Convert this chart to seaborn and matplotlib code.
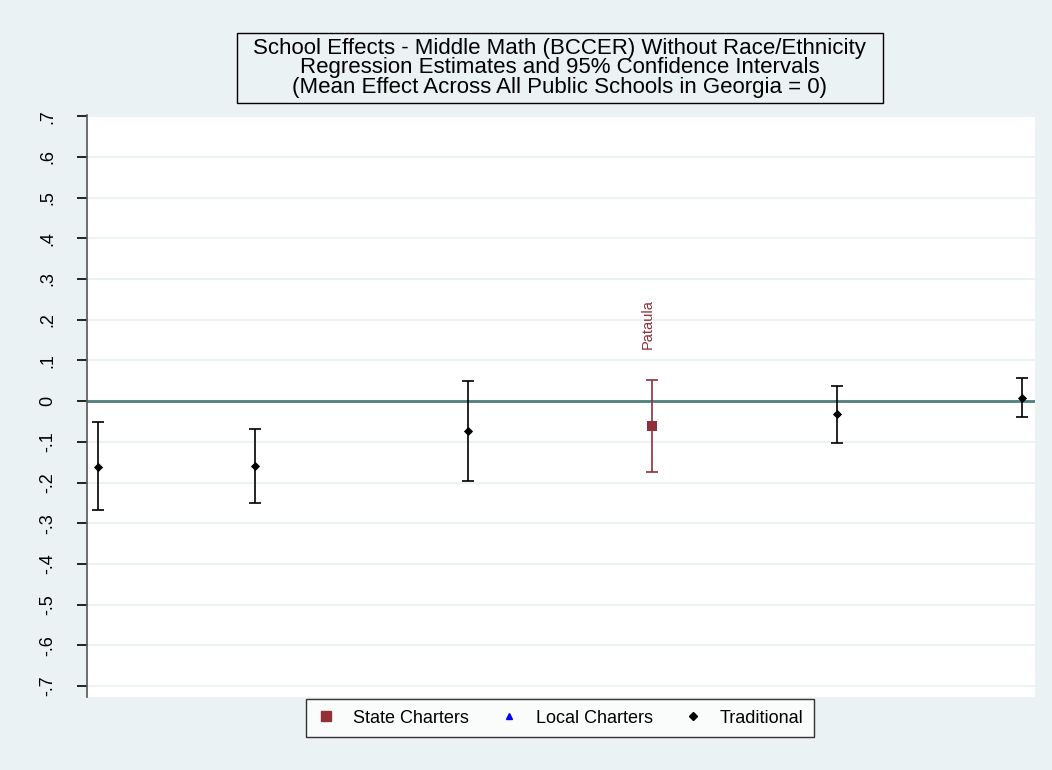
import seaborn as sns
import pandas as pd
import matplotlib.pyplot as plt
from matplotlib.lines import Line2D
from matplotlib.patches import Rectangle

# School effect estimates
school = ['', '', '', 'Pataula', '', '']
sector = ['Traditional', 'Traditional', 'Traditional', 'State Charters', 'Traditional', 'Traditional']
rank = [0, 8.5, 20, 30, 40, 50]
estimate = [-0.161, -0.159, -0.073, -0.060, -0.032, 0.008]
ci_low = [-0.267, -0.250, -0.197, -0.174, -0.103, -0.038]
ci_high = [-0.052, -0.068, 0.050, 0.052, 0.037, 0.057]

y_ticks = [-0.7, -0.6, -0.5, -0.4, -0.3, -0.2, -0.1, 0, 0.1, 0.2, 0.3, 0.4, 0.5, 0.6, 0.7]
y_labels = ['-.7', '-.6', '-.5', '-.4', '-.3', '-.2', '-.1', '0', '.1', '.2', '.3', '.4', '.5', '.6', '.7']

df = pd.DataFrame({'school': school, 'sector': sector, 'rank': rank,
                   'estimate': estimate, 'lo': ci_low, 'hi': ci_high})

bg = '#EAF2F3'
colors = {'State Charters': '#913038', 'Local Charters': '#0000FF', 'Traditional': '#000000'}
markers = {'State Charters': 's', 'Local Charters': '^', 'Traditional': 'D'}
sizes = {'State Charters': 60, 'Local Charters': 30, 'Traditional': 22}
plain = ['Liberation Sans', 'DejaVu Sans']

sns.set_style('white')
plt.rcParams['font.family'] = ['Liberation Sans Narrow', 'Liberation Sans', 'DejaVu Sans']
plt.rcParams['text.color'] = 'black'
plt.rcParams['ytick.color'] = 'black'
plt.rcParams['ytick.labelcolor'] = 'black'

fig = plt.figure(figsize=(10.52, 7.7), dpi=100, facecolor=bg)
ax = fig.add_axes([0.0827, 0.0948, 0.9011, 0.7558])
ax.set_facecolor('white')

for y in y_ticks:
    ax.axhline(y, color='#EAF2F3', lw=1.5, zorder=0)
ax.axhline(0, color='#4F7F7A', lw=2, zorder=1)

for _, r in df.iterrows():
    c = colors[r['sector']]
    ax.errorbar(r['rank'], r['estimate'],
                yerr=[[r['estimate'] - r['lo']], [r['hi'] - r['estimate']]],
                fmt='none', ecolor=c, elinewidth=1.2, capsize=4.5, capthick=1.2, zorder=2)

for sec, sub in df.groupby('sector'):
    sns.scatterplot(data=sub, x='rank', y='estimate', ax=ax, color=colors[sec],
                    marker=markers[sec], s=sizes[sec], edgecolor=colors[sec],
                    linewidth=0, zorder=3, legend=False)

for _, r in df[df['school'] != ''].iterrows():
    ax.text(r['rank'] - 0.25, 0.19, r['school'], rotation=90, ha='center', va='center',
            color=colors[r['sector']], fontsize=10.5, family=plain)

ax.set_xlim(-0.6, 50.7)
ax.set_ylim(-0.727, 0.703)
ax.set_yticks(y_ticks)
ax.set_yticklabels(y_labels, rotation=90, va='center', fontsize=13, family=plain, color='black')
ax.set_xticks([])
ax.set_xlabel('')
ax.set_ylabel('')
ax.tick_params(axis='y', direction='out', length=7, width=1.2, color='black', left=True, pad=15)
for side in ['top', 'right', 'bottom']:
    ax.spines[side].set_visible(False)
ax.spines['left'].set_color('#555555')
ax.spines['left'].set_linewidth(1.2)

# title box
fig.patches.append(Rectangle((0.2253, 0.8662), 0.6141, 0.0909, transform=fig.transFigure,
                             facecolor=bg, edgecolor='black', linewidth=1))
fig.text(0.532, 0.9117,
         'School Effects - Middle Math (BCCER) Without Race/Ethnicity\n'
         'Regression Estimates and 95% Confidence Intervals\n'
         '(Mean Effect Across All Public Schools in Georgia = 0)',
         ha='center', va='center', fontsize=16, linespacing=0.93, color='black')

handles = [Line2D([], [], ls='none', marker=markers[k], color=colors[k],
                  markersize={'State Charters': 7, 'Local Charters': 5, 'Traditional': 4.5}[k])
           for k in ['State Charters', 'Local Charters', 'Traditional']]
leg = fig.legend(handles, ['State Charters', 'Local Charters', 'Traditional'],
                 loc='center', bbox_to_anchor=(0.5325, 0.0675), ncol=3, frameon=True,
                 fancybox=False, edgecolor='black', handlelength=1,
                 handletextpad=1.0, columnspacing=1.7, borderpad=0.6,
                 prop={'family': plain, 'size': 13}, labelcolor='black')
leg.get_frame().set_linewidth(1)

fig.savefig('out.png', dpi=100, facecolor=bg)
